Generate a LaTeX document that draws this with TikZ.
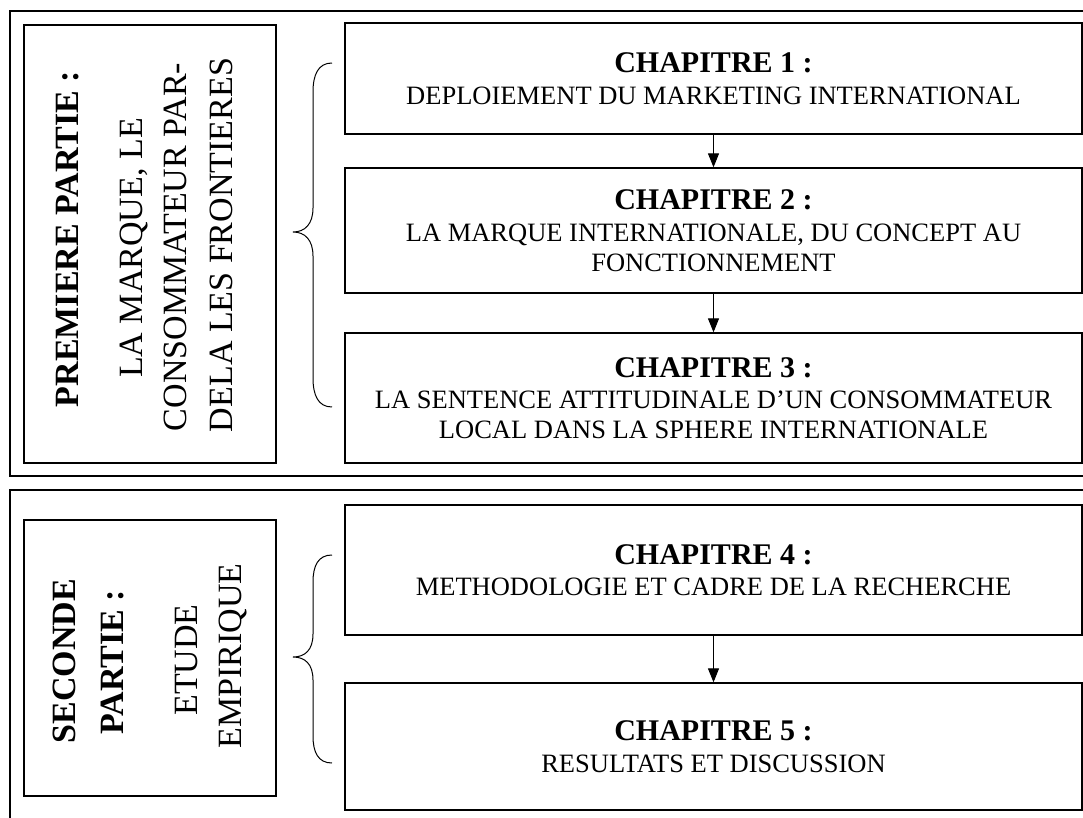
\documentclass[tikz,border=0pt]{standalone}
\usepackage{fontspec}
\setmainfont{Liberation Serif}
\usetikzlibrary{arrows.meta}
\begin{document}
\begin{tikzpicture}[x=1pt,y=-1pt,
  outer/.style={draw, line width=1.5pt},
  partbox/.style={draw, line width=1.3pt, inner sep=0pt},
  chap/.style={draw, line width=1.3pt, minimum width=737pt, align=center, inner sep=0pt, font=\fontsize{26.5}{30}\selectfont},
  parttxt/.style={rotate=90, anchor=base, inner sep=0pt, font=\fontsize{34}{40}\selectfont},
  partbold/.style={parttxt, font=\fontsize{34}{40}\selectfont\bfseries},
  flow/.style={-{Triangle[length=14pt,width=11pt]}, line width=1pt},
  bracepath/.style={line width=1pt}]
\useasboundingbox (0,0) rectangle (1083,818);
\clip (0,0) rectangle (1083,818);
\fill[white] (0,0) rectangle (1083,818);

% outer frames
\draw[outer] (10,11) rectangle (1100,476);
\draw[outer] (10,490) rectangle (1100,840);

% part boxes
\node[partbox, minimum width=252pt, minimum height=438pt] (p1) at (150,244) {};
\node[partbox, minimum width=252pt, minimum height=276pt] (p2) at (150,658) {};

% part texts
\node[partbold] (p1a) at (78,239) {PREMIERE PARTIE :};
\node[parttxt] (p1b) at (142,248) {LA MARQUE, LE};
\node[parttxt] (p1c) at (186,247) {CONSOMMATEUR PAR-};
\node[parttxt] (p1d) at (232,245) {DELA LES FRONTIERES};

\node[partbold] (p2a) at (75,661) {SECONDE};
\node[partbold] (p2b) at (123,662) {PARTIE :};
\node[parttxt] (p2c) at (197,660) {ETUDE};
\node[parttxt] (p2d) at (241,656) {EMPIRIQUE};

% braces
\draw[bracepath] (332,63) .. controls (318,63) and (313,75) .. (313,92) -- (313,208)
  .. controls (313,224) and (305,232) .. (293,232)
  .. controls (305,232) and (313,240) .. (313,256) -- (313,378)
  .. controls (313,395) and (318,407) .. (332,407);
\draw[bracepath] (332,555) .. controls (318,555) and (313,566) .. (313,582) -- (313,634)
  .. controls (313,650) and (305,657) .. (293,657)
  .. controls (305,657) and (313,664) .. (313,680) -- (313,736)
  .. controls (313,752) and (318,763) .. (332,763);

% chapters
\node[chap, minimum height=111pt] (c1) at (713.5,78.5)
  {{\fontsize{30}{34}\selectfont\bfseries CHAPITRE 1 :}\\[1.5pt]DEPLOIEMENT DU MARKETING INTERNATIONAL};
\node[chap, minimum height=125pt] (c2) at (713.5,230.5)
  {{\fontsize{30}{34}\selectfont\bfseries CHAPITRE 2 :}\\[1.5pt]LA MARQUE INTERNATIONALE, DU CONCEPT AU\\FONCTIONNEMENT};
\node[chap, minimum height=130pt] (c3) at (713.5,398)
  {{\fontsize{30}{34}\selectfont\bfseries CHAPITRE 3 :}\\[1.5pt]LA SENTENCE ATTITUDINALE D’UN CONSOMMATEUR\\LOCAL DANS LA SPHERE INTERNATIONALE};
\node[chap, minimum height=130pt] (c4) at (713.5,570)
  {{\fontsize{30}{34}\selectfont\bfseries CHAPITRE 4 :}\\[1.5pt]METHODOLOGIE ET CADRE DE LA RECHERCHE};
\node[chap, minimum height=127pt] (c5) at (713.5,746.5)
  {{\fontsize{30}{34}\selectfont\bfseries CHAPITRE 5 :}\\[1.5pt]RESULTATS ET DISCUSSION};

% arrows
\draw[flow] (c1) -- (c2);
\draw[flow] (c2) -- (c3);
\draw[flow] (c4) -- (c5);
\end{tikzpicture}
\end{document}
